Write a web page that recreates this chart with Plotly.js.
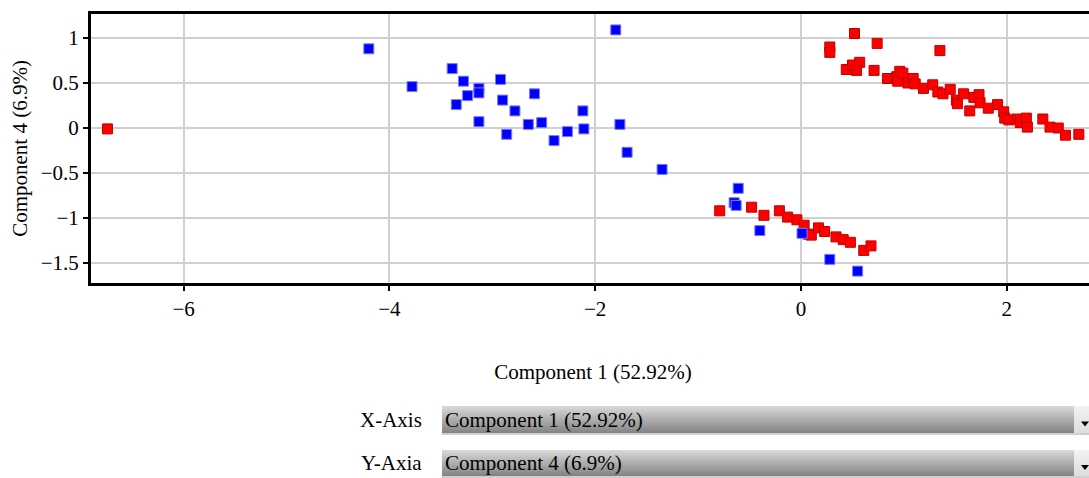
<!DOCTYPE html>
<html>
<head>
<meta charset="utf-8">
<script src="https://cdn.plot.ly/plotly-3.0.1.min.js"></script>
<style>
html,body{margin:0;padding:0;overflow:hidden;background:#fff;}
#chart{width:1100px;height:478px;}
#chart svg text{font-family:"Liberation Serif","Times New Roman",serif !important;}
</style>
</head>
<body>
<div id="chart"></div>
<script>
// ---- data ----
var xTitle = "Component 1 (52.92%)";
var yTitle = "Component 4 (6.9%)";
var xMenuLabel = "X-Axis";
var yMenuLabel = "Y-Axia";

var blueX = [-4.20,-3.78,-3.39,-3.28,-3.35,-3.24,-3.13,-3.13,-3.13,-2.92,-2.90,-2.86,-2.78,-2.59,-2.65,-2.52,-2.40,-2.27,-2.12,-2.11,-1.80,-1.76,-1.69,-1.35,-0.61,-0.65,-0.63,-0.40,0.01,0.28,0.55];
var blueY = [0.88,0.46,0.66,0.52,0.26,0.36,0.44,0.39,0.07,0.54,0.31,-0.07,0.19,0.38,0.04,0.06,-0.14,-0.04,0.19,-0.01,1.09,0.04,-0.27,-0.46,-0.67,-0.83,-0.86,-1.14,-1.17,-1.46,-1.59];

var redX = [-6.74,-0.79,-0.48,-0.36,-0.21,-0.13,-0.04,0.03,0.07,0.10,0.17,0.23,0.34,0.41,0.48,0.61,0.68,
  0.28,0.28,0.52,0.74,1.35,0.44,0.50,0.57,0.54,0.71,0.84,0.93,0.94,0.96,0.99,1.04,1.09,1.11,1.19,1.28,1.33,1.38,1.45,1.51,1.52,1.58,1.64,1.68,1.73,1.74,1.82,1.91,1.97,1.98,2.02,2.10,2.13,2.19,2.20,2.35,2.42,2.50,2.57,2.70];
var redY = [-0.01,-0.92,-0.88,-0.97,-0.92,-0.99,-1.02,-1.08,-1.18,-1.19,-1.11,-1.15,-1.21,-1.24,-1.27,-1.36,-1.31,
  0.90,0.84,1.05,0.94,0.86,0.65,0.70,0.73,0.64,0.64,0.55,0.57,0.52,0.63,0.61,0.50,0.55,0.49,0.44,0.48,0.40,0.38,0.43,0.31,0.27,0.38,0.19,0.34,0.37,0.28,0.22,0.26,0.18,0.11,0.09,0.10,0.06,0.11,0.01,0.10,0.01,0.00,-0.08,-0.07];

(function(){
var PL = 91, PR = 1095, PT = 14, PB = 283;
var PW = PR - PL, PH = PB - PT;
function toPX(v){ return (v - PL) / PW; }
function toPY(v){ return (PB - v) / PH; }

var fam = "Liberation Serif, serif";
var shapeList = [];
var annList = [];

function hx(v){ var s = Math.round(v).toString(16); return s.length < 2 ? "0"+s : s; }
function gr(v){ return "#" + hx(v) + hx(v) + hx(v); }

function addMenu(top, bottom, label, value){
  var n = bottom - top;
  for (var i = 0; i < n; i++) {
    var t = i / (n - 1);
    var c = 216 - (216 - 132) * t;
    shapeList.push({type:"rect", xref:"paper", yref:"paper", x0:toPX(442), x1:toPX(1074), y0:toPY(top+i), y1:toPY(top+i+1), fillcolor:gr(c), line:{width:0}, layer:"above"});
    var c2 = 242 - (242 - 222) * t;
    shapeList.push({type:"rect", xref:"paper", yref:"paper", x0:toPX(1074), x1:toPX(1100), y0:toPY(top+i), y1:toPY(top+i+1), fillcolor:gr(c2), line:{width:0}, layer:"above"});
  }
  shapeList.push({type:"rect", xref:"paper", yref:"paper", x0:toPX(442), x1:toPX(1100), y0:toPY(bottom), y1:toPY(bottom+2), fillcolor:"#cfcfcf", line:{width:0}, layer:"above"});
  var ay = top + n/2 + 5;
  shapeList.push({type:"path", xref:"paper", yref:"paper",
    path:"M "+toPX(1081)+" "+toPY(ay-3)+" L "+toPX(1089)+" "+toPY(ay-3)+" L "+toPX(1085)+" "+toPY(ay+2)+" Z",
    fillcolor:"#000", line:{width:0}, layer:"above"});
  annList.push({xref:"paper", yref:"paper", x:toPX(443), y:toPY(top + n/2), xanchor:"left", yanchor:"middle", showarrow:false, text:value, font:{family:fam, size:21, color:"#000"}});
  annList.push({xref:"paper", yref:"paper", x:toPX(424), y:toPY(top + n/2), xanchor:"right", yanchor:"middle", showarrow:false, text:label, font:{family:fam, size:21, color:"#000"}});
}
addMenu(406, 433, xMenuLabel, xTitle);
addMenu(450, 476, yMenuLabel, yTitle);

var data = [
  {type:"scatter", mode:"markers", x:redX, y:redY,
   marker:{symbol:"square", size:10, color:"#ff0000", line:{color:"#c00000", width:1}}},
  {type:"scatter", mode:"markers", x:blueX, y:blueY,
   marker:{symbol:"square", size:10, color:"#0000ff", line:{color:"#7a7aff", width:1}}}
];

var xa0 = (PL - 801) / 102.9, xa1 = (PR - 801) / 102.9;
var ya1 = (128 - PT) / 90, ya0 = (128 - PB) / 90;

var lay = {
  width: 1100, height: 478,
  margin: {l: PL, r: 1100 - PR, t: PT, b: 478 - PB, pad: 0},
  paper_bgcolor: "#fff", plot_bgcolor: "#fff",
  showlegend: false,
  font: {family: fam, size: 21, color: "#000"},
  xaxis: {
    range: [xa0, xa1], dtick: 2, tick0: 0,
    showgrid: true, gridcolor: "#d0d0d0", gridwidth: 1.5,
    zeroline: false,
    showline: true, linecolor: "#000", linewidth: 3, mirror: true,
    ticks: "outside", ticklen: 5, tickwidth: 2, tickcolor: "#000",
    tickfont: {family: fam, size: 21, color: "#000"},
    title: {text: xTitle, font: {family: fam, size: 21, color: "#000"}, standoff: 45},
    automargin: false
  },
  yaxis: {
    range: [ya0, ya1], dtick: 0.5, tick0: 0,
    showgrid: true, gridcolor: "#d0d0d0", gridwidth: 1.5,
    zeroline: false,
    showline: true, linecolor: "#000", linewidth: 3, mirror: true,
    ticks: "outside", ticklen: 5, tickwidth: 2, tickcolor: "#000",
    tickfont: {family: fam, size: 21, color: "#000"},
    title: {text: yTitle, font: {family: fam, size: 21, color: "#000"}, standoff: 8},
    automargin: false
  },
  shapes: shapeList,
  annotations: annList
};

Plotly.newPlot("chart", data, lay, {displayModeBar: false});
})();
</script>
</body>
</html>
